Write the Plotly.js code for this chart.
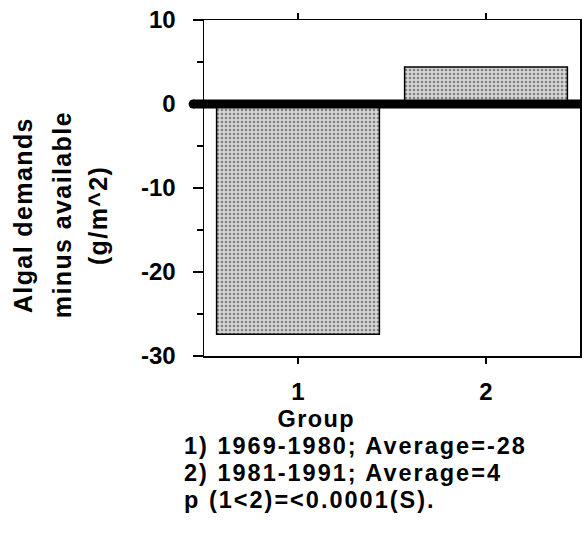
<!DOCTYPE html>
<html>
<head>
<meta charset="utf-8">
<script src="https://cdn.plot.ly/plotly-3.0.1.min.js"></script>
<style>
html,body{margin:0;padding:0;background:#fff;}
#chart{width:582px;height:550px;}
#chart .annotation-text{letter-spacing:1.4px;}
#chart .annotation[data-index="4"] .annotation-text,
#chart .annotation[data-index="5"] .annotation-text,
#chart .annotation[data-index="6"] .annotation-text{letter-spacing:2px;}
</style>
</head>
<body>
<div id="chart"></div>
<script>
const groups = [1, 2];
const values = [-27.4, 4.4];
const yTicks = [10, 0, -10, -20, -30];
const yTitleLines = ["Algal demands", "minus available", "(g/m^2)"];
const noteLines = ["1) 1969-1980; Average=-28", "2) 1981-1991; Average=4", "p (1<2)=<0.0001(S)."];
const xTitle = "Group";

const FONT = "'Liberation Sans', Arial, sans-serif";
const PX = 1 / 336;

const trace = {
  type: 'bar',
  x: groups,
  y: values,
  width: 0.866,
  marker: {
    color: '#cfcfcf',
    line: {color: '#000', width: 1.5},
    pattern: {shape: '.', size: 4, solidity: 0.3, fgcolor: '#808080', bgcolor: '#d4d4d4', fillmode: 'replace'}
  },
  hoverinfo: 'skip'
};

const ann = [];
const yCenters = [-0.481, -0.378, -0.281];
yTitleLines.forEach((t, i) => ann.push({
  text: t, xref: 'paper', yref: 'paper', x: yCenters[i], y: 0.42,
  xanchor: 'center', yanchor: 'middle', textangle: -90, showarrow: false,
  font: {family: FONT, size: 25, weight: 700, color: '#000'}
}));
ann.push({
  text: xTitle, xref: 'paper', yref: 'paper', x: 0.298, y: -(419 - 356) * PX,
  xanchor: 'center', yanchor: 'middle', showarrow: false, borderpad: 0,
  font: {family: FONT, size: 23.5, weight: 700, color: '#000'}
});
const notePix = [446, 473, 500];
noteLines.forEach((t, i) => ann.push({
  text: t.replace(/</g, '&lt;'), xref: 'paper', yref: 'paper', x: -0.056, y: -(notePix[i] - 356) * PX,
  xanchor: 'left', yanchor: 'middle', align: 'left', showarrow: false, borderpad: 0,
  font: {family: FONT, size: 23.5, weight: 700, color: '#000'}
}));

const layout = {
  width: 582, height: 550,
  margin: {l: 204, r: 2, t: 20, b: 194, pad: 0},
  paper_bgcolor: '#fff', plot_bgcolor: '#fff',
  showlegend: false,
  font: {family: FONT, color: '#000'},
  xaxis: {
    range: [0.5, 2.5], tickvals: groups, ticktext: groups.map(String),
    ticks: 'outside', ticklen: 6, tickwidth: 1.5, tickcolor: '#000',
    showline: true, linecolor: '#000', linewidth: 1.5, mirror: 'ticks',
    showgrid: false, zeroline: false, ticklabelstandoff: 8,
    tickfont: {family: FONT, size: 24, weight: 700, color: '#000'}
  },
  yaxis: {
    range: [-30, 10], tickvals: yTicks, ticktext: yTicks.map(String),
    ticks: 'outside', ticklen: 10, tickwidth: 1.5, tickcolor: '#000',
    minor: {dtick: 5, ticks: 'outside', ticklen: 6, tickwidth: 1.5, tickcolor: '#000', showgrid: false},
    showline: true, linecolor: '#000', linewidth: 1.5, mirror: true,
    showgrid: false, zeroline: false, ticklabelstandoff: 12,
    tickfont: {family: FONT, size: 24, weight: 700, color: '#000'}
  },
  shapes: [
    {type: 'line', xref: 'paper', yref: 'y', x0: -0.029, x1: 1.01, y0: 0, y1: 0,
     line: {color: '#000', width: 9}, layer: 'above'},
    {type: 'circle', xref: 'paper', yref: 'y', xsizemode: 'pixel', ysizemode: 'pixel',
     xanchor: -0.029, yanchor: 0, x0: -4.5, x1: 4.5, y0: -4.5, y1: 4.5,
     fillcolor: '#000', line: {width: 0}, layer: 'above'}
  ],
  annotations: ann
};

Plotly.newPlot('chart', [trace], layout, {displayModeBar: false, staticPlot: true});
</script>
</body>
</html>
